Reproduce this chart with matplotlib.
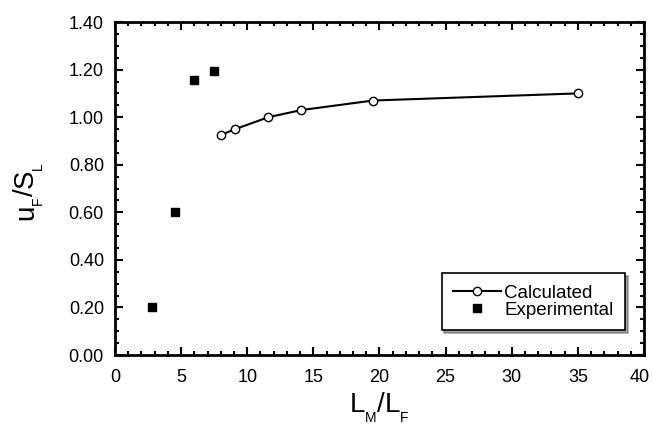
import matplotlib
matplotlib.use("Agg")
import matplotlib.pyplot as plt
from matplotlib.ticker import MultipleLocator, FormatStrFormatter, FuncFormatter

plt.rcParams['font.family'] = ['Liberation Sans', 'DejaVu Sans']

# calculated curve
calc_x = [8.0, 9.1, 11.6, 14.1, 19.5, 35.0]
calc_y = [0.925, 0.95, 1.0, 1.03, 1.07, 1.10]

# experimental points
exp_x = [2.8, 4.5, 6.0, 7.5]
exp_y = [0.20, 0.60, 1.155, 1.195]

x_max = 40

fig = plt.figure(figsize=(6.52, 4.24), dpi=100)
ax = fig.add_axes([0.1764, 0.1627, 0.8113, 0.7853])

ax.plot(calc_x, calc_y, color='black', lw=1.5, marker='o', ms=6,
        mfc='white', mec='black', mew=1.0, label='Calculated')
ax.plot(exp_x, exp_y, ls='none', marker='s', ms=6, color='black',
        label='Experimental')

ax.set_xlim(0, x_max)
ax.set_ylim(0, 1.40)
ax.xaxis.set_major_locator(MultipleLocator(5))
ax.xaxis.set_minor_locator(MultipleLocator(1))
ax.yaxis.set_major_locator(MultipleLocator(0.2))
ax.yaxis.set_minor_locator(MultipleLocator(0.05))
ax.yaxis.set_major_formatter(FormatStrFormatter('%.2f'))
# the last x label is drawn by hand a little to the left so it is not cut
ax.xaxis.set_major_formatter(FuncFormatter(
    lambda v, p: '' if v >= x_max else f'{v:.0f}'))

ax.tick_params(which='both', direction='in', top=True, right=True,
               labelsize=13, width=1.5)
ax.tick_params(axis='x', pad=10)
ax.tick_params(axis='y', pad=8)
ax.tick_params(which='major', length=6)
ax.tick_params(which='minor', length=3)
for s in ax.spines.values():
    s.set_linewidth(2)

ax.annotate(f'{x_max}', xy=(x_max, 0), xycoords=('data', 'axes fraction'),
            xytext=(-3, -10), textcoords='offset points', fontsize=13,
            ha='center', va='top', annotation_clip=False)


def chain_label(pieces, x0, y0, rotated=False):
    # pieces: (text, fontsize, baseline shift in px); chained end to end
    prev = None
    for txt, size, shift in pieces:
        if not rotated:
            if prev is None:
                t = ax.annotate(txt, xy=(x0, y0 - shift), xycoords='figure pixels',
                                fontsize=size, ha='left', va='baseline')
            else:
                t = ax.annotate(txt, xy=(1, y0 - shift), xycoords=(prev, 'figure pixels'),
                                fontsize=size, ha='left', va='baseline')
        else:
            if prev is None:
                t = ax.annotate(txt, xy=(x0 + shift, y0), xycoords='figure pixels',
                                fontsize=size, ha='left', va='baseline',
                                rotation=90, rotation_mode='anchor')
            else:
                t = ax.annotate(txt, xy=(x0 + shift, 1), xycoords=('figure pixels', prev),
                                fontsize=size, ha='left', va='baseline',
                                rotation=90, rotation_mode='anchor')
        t.set_annotation_clip(False)
        prev = t


chain_label([('L', 20, 0), ('M', 10, 10), ('/', 20, 0), ('L', 20, 0), ('F', 10, 10)],
            350, 12)
chain_label([('u', 20, 0), ('F', 10, 9), ('/', 20, 0), ('S', 20, 0), ('L', 10, 9)],
            33, 204, rotated=True)

leg = ax.legend(loc='lower right', bbox_to_anchor=(0.964, 0.075), borderaxespad=0,
                fontsize=13.5, frameon=True, fancybox=False, shadow=True,
                edgecolor='black', handlelength=2.55, handletextpad=0.2,
                borderpad=0.6, labelspacing=0.0)
leg.get_frame().set_linewidth(1.2)

fig.savefig('out.png', dpi=100)
